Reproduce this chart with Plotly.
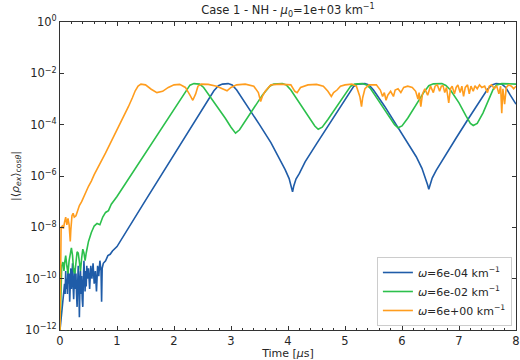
import numpy as np
import plotly.graph_objects as go

# ---- data (time in microseconds, values stored as log10 of |<rho_ex>|) ----
blue_t = [0.00, 0.03, 0.06, 0.08, 0.09, 0.10, 0.11, 0.12, 0.13, 0.14, 0.15, 0.16, 0.17, 0.18, 0.19,
          0.20, 0.21, 0.22, 0.23, 0.24, 0.25, 0.26, 0.27, 0.28, 0.29, 0.30, 0.31, 0.32, 0.33, 0.34,
          0.35, 0.36, 0.37, 0.38, 0.39, 0.40, 0.41, 0.42, 0.43, 0.44, 0.45, 0.46, 0.47, 0.48, 0.50,
          0.52, 0.54, 0.56, 0.58, 0.60, 0.62, 0.64, 0.66, 0.68, 0.70, 0.72, 0.73, 0.74, 0.76, 0.78,
          0.80, 0.84, 0.88, 0.92, 0.96,
          1.00, 1.50, 2.00, 2.50, 2.70, 2.78, 2.85, 2.95, 3.02, 3.10, 3.30, 3.50, 3.70, 3.85, 3.95,
          4.02, 4.06, 4.08, 4.10, 4.14, 4.20, 4.30, 4.50, 4.70, 4.90, 5.05, 5.15, 5.22, 5.35, 5.42,
          5.50, 5.70, 5.90, 6.10, 6.25, 6.35, 6.42, 6.45, 6.47, 6.49, 6.53, 6.60, 6.75, 6.95, 7.15,
          7.35, 7.50, 7.58, 7.65, 7.75, 7.82, 7.90, 8.00]
blue_log = [-12.0, -11.4, -10.8, -10.2, -10.6, -9.7, -10.4, -10.0, -10.6, -9.5, -10.2, -9.8, -10.9, -10.1, -9.6,
            -10.4, -9.9, -9.4, -10.3, -10.8, -10.1, -9.6, -10.4, -9.8, -10.6, -11.1, -10.2, -9.5, -10.0, -11.5,
            -10.3, -9.7, -10.6, -9.9, -10.8, -11.1, -10.1, -9.3, -9.9, -10.5, -9.7, -10.3, -9.5, -10.0, -9.6,
            -10.4, -9.5, -10.0, -9.4, -10.2, -9.7, -10.5, -9.5, -9.9, -9.3, -9.7, -10.9, -9.6, -9.4, -9.35,
            -9.3, -9.1, -9.05, -8.92, -8.85,
            -8.75, -6.95, -5.15, -3.35, -2.68, -2.48, -2.42, -2.40, -2.45, -2.65, -3.30, -4.00, -4.70, -5.30, -5.75,
            -6.10, -6.40, -6.62, -6.40, -6.12, -5.90, -5.45, -4.75, -4.05, -3.35, -2.85, -2.52, -2.42, -2.40, -2.45,
            -2.65, -3.30, -4.00, -4.70, -5.25, -5.70, -6.10, -6.35, -6.52, -6.35, -6.08, -5.78, -5.22, -4.52, -3.82,
            -3.12, -2.62, -2.45, -2.40, -2.42, -2.55, -2.85, -3.20]

green_t = [0.00, 0.01, 0.02, 0.03, 0.05, 0.07, 0.08, 0.10, 0.12, 0.14, 0.16, 0.18, 0.20, 0.22, 0.24,
           0.26, 0.28, 0.30, 0.32, 0.34, 0.36, 0.38, 0.40, 0.42, 0.44, 0.46, 0.50, 0.55, 0.60, 0.65,
           0.70, 0.75, 0.80, 0.85, 0.90, 1.00, 1.50, 2.00, 2.15, 2.22, 2.28, 2.35, 2.45, 2.52, 2.60,
           2.75, 2.90, 3.00, 3.08, 3.15, 3.25, 3.40, 3.55, 3.68, 3.75, 3.90, 3.97, 4.05, 4.20, 4.35,
           4.47, 4.53, 4.60, 4.70, 4.85, 5.00, 5.10, 5.17, 5.30, 5.38, 5.45, 5.60, 5.75, 5.87, 5.93,
           6.00, 6.10, 6.25, 6.38, 6.47, 6.55, 6.70, 6.77, 6.85, 7.00, 7.12, 7.20, 7.25, 7.32, 7.42,
           7.52, 7.60, 7.66, 7.75, 8.00]
green_log = [-12.0, -10.8, -9.9, -9.5, -9.35, -9.7, -9.4, -9.1, -9.5, -9.8, -9.3, -9.05, -8.8, -9.1, -9.7,
             -9.8, -9.3, -8.95, -9.0, -9.5, -9.7, -9.2, -8.85, -9.0, -9.3, -9.0, -8.55, -8.2, -7.95, -7.85,
             -7.9, -7.6, -7.42, -7.35, -7.1, -6.8, -5.1, -3.4, -2.9, -2.62, -2.46, -2.40, -2.42, -2.55, -2.8,
             -3.25, -3.75, -4.1, -4.33, -4.2, -3.85, -3.35, -2.85, -2.5, -2.42, -2.40, -2.45, -2.65, -3.15, -3.65,
             -4.05, -4.18, -4.1, -3.8, -3.3, -2.8, -2.5, -2.42, -2.40, -2.45, -2.6, -3.1, -3.6, -4.0, -4.12,
             -4.05, -3.75, -3.2, -2.75, -2.48, -2.41, -2.40, -2.47, -2.65, -3.15, -3.65, -3.95, -4.03, -3.95, -3.55,
             -3.0, -2.62, -2.45, -2.40, -2.42]

orange_t = [0.000, 0.005, 0.01, 0.02, 0.04, 0.06, 0.08, 0.10, 0.12, 0.14, 0.16, 0.18, 0.19, 0.21, 0.23,
            0.25, 0.28, 0.31, 0.34, 0.38, 0.42, 0.46, 0.50, 0.55, 0.60, 0.80, 1.00, 1.10, 1.20, 1.27,
            1.32, 1.37, 1.42, 1.50, 1.60, 1.70, 1.80, 1.90, 2.00, 2.10, 2.20, 2.28, 2.33, 2.38, 2.42,
            2.48, 2.60, 2.75, 2.85, 2.93, 3.00, 3.10, 3.25, 3.40, 3.48, 3.52, 3.55, 3.60, 3.70, 3.85,
            4.05, 4.12, 4.16, 4.22, 4.35, 4.50, 4.62, 4.70, 4.76, 4.80, 4.86, 4.92, 5.00, 5.12, 5.20,
            5.26, 5.29, 5.31, 5.35, 5.42, 5.55, 5.62, 5.66, 5.69, 5.72, 5.75, 5.80, 5.85, 5.88, 5.93,
            5.98, 6.03, 6.10, 6.18, 6.24, 6.28, 6.30, 6.33, 6.36, 6.40, 6.45, 6.50, 6.55, 6.58, 6.62,
            6.66, 6.69, 6.72, 6.75, 6.78, 6.82, 6.85, 6.88, 6.92, 6.95, 6.98, 7.02, 7.05, 7.08, 7.11,
            7.15, 7.18, 7.21, 7.25, 7.28, 7.32, 7.36, 7.40, 7.45, 7.50, 7.53, 7.57, 7.62, 7.66, 7.70,
            7.73, 7.75, 7.77, 7.80, 7.83, 7.87, 7.92, 7.96, 8.00]
orange_log = [-12.0, -9.5, -8.3, -8.0, -7.95, -8.05, -7.8, -7.6, -7.9, -7.65, -7.9, -8.55, -8.1, -7.55, -7.45,
              -7.6, -7.55, -7.35, -7.15, -7.0, -6.8, -6.55, -6.4, -6.2, -5.95, -5.1, -4.2, -3.8, -3.3, -2.95,
              -2.68, -2.5, -2.42, -2.45, -2.62, -2.75, -2.7, -2.55, -2.45, -2.43, -2.55, -2.85, -3.05, -2.8, -2.5,
              -2.42, -2.43, -2.5, -2.6, -2.68, -2.55, -2.45, -2.42, -2.5, -2.75, -3.1, -2.9, -2.7, -2.45, -2.42,
              -2.45, -2.7, -2.75, -2.55, -2.45, -2.43, -2.5, -2.7, -2.9, -2.75, -2.65, -2.5, -2.45, -2.42, -2.5,
              -2.9, -3.3, -2.95, -2.6, -2.45, -2.45, -2.65, -2.9, -2.75, -3.05, -2.85, -2.7, -2.9, -2.65, -2.6,
              -2.75, -2.55, -2.5, -2.55, -2.7, -3.0, -2.75, -3.3, -2.8, -2.6, -2.85, -2.5, -2.75, -2.5, -2.45,
              -2.7, -2.5, -2.48, -2.75, -2.55, -3.15, -2.6, -2.5, -2.8, -2.55, -2.45, -2.75, -2.5, -2.9, -2.55,
              -2.45, -2.8, -2.5, -2.7, -2.48, -2.6, -2.45, -2.55, -2.5, -2.75, -2.5, -2.45, -2.6, -2.48, -2.8,
              -2.5, -3.55, -2.6, -3.2, -2.55, -2.45, -2.5, -2.6, -2.5]

series_names = ["<i>ω</i>=6e-04 km<sup>−1</sup>", "<i>ω</i>=6e-02 km<sup>−1</sup>", "<i>ω</i>=6e+00 km<sup>−1</sup>"]
series_colors = ["#1f5ca8", "#2cc04c", "#ff9d1e"]

y_tick_exps = [0, -2, -4, -6, -8, -10, -12]
x_tick_vals = [0, 1, 2, 3, 4, 5, 6, 7, 8]

FONT = "DejaVu Sans"

fig = go.Figure()
for t, lg, name, col in zip([blue_t, green_t, orange_t], [blue_log, green_log, orange_log],
                            series_names, series_colors):
    fig.add_trace(go.Scatter(x=t, y=10.0 ** np.array(lg), mode="lines", name=name,
                             line=dict(color=col, width=1.6)))

axis_common = dict(showline=True, linecolor="#333333", linewidth=1, mirror="allticks",
                   ticks="inside", tickcolor="#333333", showgrid=False, zeroline=False,
                   automargin=False,
                   tickfont=dict(family=FONT, size=11.5, color="#262626"))

fig.update_xaxes(range=[0, 8], tickvals=x_tick_vals, ticklen=4,
                 minor=dict(dtick=0.2, ticks="inside", ticklen=2, tickcolor="#333333"),
                 title=dict(text="Time [<i>μ</i>s]", font=dict(family=FONT, size=11, color="#262626"),
                            standoff=2),
                 **axis_common)
fig.update_yaxes(type="log", range=[-12, 0], tickvals=[10.0 ** e for e in y_tick_exps],
                 ticktext=["10<sup>%s</sup>" % (str(e).replace("-", "−")) for e in y_tick_exps],
                 ticklen=4,
                 title=dict(text="|⟨<i>ρ</i><sub><i>ex</i></sub>⟩<sub>cos<i>θ</i></sub>|",
                            font=dict(family=FONT, size=11, color="#262626"), standoff=3),
                 **axis_common)

fig.update_layout(
    width=520, height=360,
    margin=dict(l=60, r=4, t=22, b=30),
    paper_bgcolor="white", plot_bgcolor="white",
    font=dict(family=FONT, size=11, color="#262626"),
    title=dict(text="Case 1 - NH - <i>μ</i><sub>0</sub>=1e+03 km<sup>−1</sup>",
               x=0.5, xref="paper", xanchor="center", y=0.972, yref="container", yanchor="middle",
               font=dict(family=FONT, size=11.5, color="#262626")),
    legend=dict(x=0.991, y=0.013, xanchor="right", yanchor="bottom",
                bgcolor="rgba(255,255,255,0.85)", bordercolor="#cccccc", borderwidth=1,
                font=dict(family=FONT, size=11, color="#262626"), tracegroupgap=0),
    showlegend=True,
)

fig.write_html("out.html")
